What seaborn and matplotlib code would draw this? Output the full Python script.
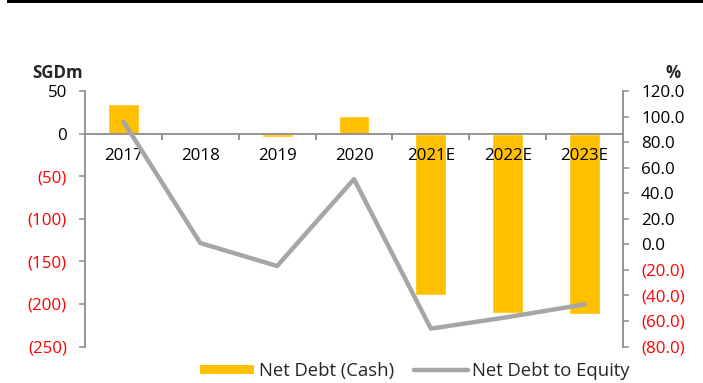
import numpy as np
import pandas as pd
import matplotlib
matplotlib.use("Agg")
import matplotlib.pyplot as plt
from matplotlib.patches import Patch, Rectangle
from matplotlib.lines import Line2D
from matplotlib.ticker import FuncFormatter, MultipleLocator
import seaborn as sns

# Net debt (cash), SGD million, and net debt to equity, %
years = ["2017", "2018", "2019", "2020", "2021E", "2022E", "2023E"]
net_debt = [35, 0, -4, 21, -190, -211, -212]
net_debt_to_equity = [96, 1, -17, 51, -66, -57, -47]

BAR_COLOR = "#FFC000"
LINE_COLOR = "#A6A6A6"
AXIS_COLOR = "#8C8C8C"
NEG_COLOR = "#FF0000"

sns.set_theme(style="white")
plt.rcParams["font.family"] = ["Open Sans", "DejaVu Sans"]
FS = 12.2
LEGEND_FS = 13.3

fig = plt.figure(figsize=(7.03, 3.83), dpi=100)
ax = fig.add_axes([85 / 703, 1 - 346.5 / 383, (623 - 85) / 703, (346.5 - 91) / 383])

df = pd.DataFrame({"year": years, "net_debt": net_debt,
                   "ratio": net_debt_to_equity, "pos": np.arange(len(years))})

sns.barplot(data=df, x="year", y="net_debt", color=BAR_COLOR, width=0.4,
            saturation=1, ax=ax, zorder=1)
ax.set_xlim(-0.5, len(years) - 0.5)
ax.set_ylim(-250, 50)
ax.yaxis.set_major_locator(MultipleLocator(50))
ax.set_axisbelow(False)

# Twin axis for the ratio line
ax2 = ax.twinx()
sns.lineplot(data=df, x="pos", y="ratio", color=LINE_COLOR, linewidth=3.2,
             ax=ax2, legend=False)
ax2.set_xlim(-0.5, len(years) - 0.5)
ax2.set_ylim(-80, 120)
ax2.yaxis.set_major_locator(MultipleLocator(20))

for a in (ax, ax2):
    a.set_xlabel("")
    a.set_ylabel("")
    a.set_facecolor("none")
    for s in a.spines.values():
        s.set_visible(False)

ax.spines["left"].set_visible(True)
ax.spines["left"].set_color(AXIS_COLOR)
ax.spines["left"].set_linewidth(1.3)
ax.spines["bottom"].set_visible(True)
ax.spines["bottom"].set_position(("data", 0))
ax.spines["bottom"].set_color(AXIS_COLOR)
ax.spines["bottom"].set_linewidth(1.3)
ax2.spines["right"].set_visible(True)
ax2.spines["right"].set_color(AXIS_COLOR)
ax2.spines["right"].set_linewidth(1.3)

# Year labels centred on bars, tick marks between categories
ax.set_xticks(np.arange(len(years)))
ax.set_xticklabels(years)
ax.set_xticks(np.arange(0.5, len(years) - 1, 1.0), minor=True)
ax.tick_params(axis="x", which="major", length=0, pad=10.5, labelsize=FS, colors="black")
ax.tick_params(axis="x", which="minor", length=4, width=1.3, color=AXIS_COLOR,
               direction="out", bottom=True)
ax2.tick_params(axis="x", which="both", bottom=False, labelbottom=False)

ax.tick_params(axis="y", which="major", left=True, length=4.5, width=1.1,
               color=AXIS_COLOR, direction="out", pad=8.5, labelsize=FS)
ax2.tick_params(axis="y", which="major", right=True, length=4.5, width=1.1,
                color=AXIS_COLOR, direction="out", pad=8.5, labelsize=FS)

ax.yaxis.set_major_formatter(FuncFormatter(
    lambda v, _: f"({abs(v):.0f})" if v < 0 else f"{v:.0f}"))
ax2.yaxis.set_major_formatter(FuncFormatter(
    lambda v, _: f"({abs(v):.1f})" if v < 0 else f"{v:.1f}"))

fig.canvas.draw()
for a in (ax, ax2):
    for lab in a.get_yticklabels():
        txt = lab.get_text()
        lab.set_color(NEG_COLOR if txt.startswith("(") else "black")

ax.set_zorder(1)
ax2.set_zorder(2)

# Axis unit titles
fig.text(58 / 703, 1 - 72.5 / 383, "SGDm", ha="center", va="center",
         fontsize=FS, fontweight="bold")
fig.text(673 / 703, 1 - 72.5 / 383, "%", ha="center", va="center",
         fontsize=FS, fontweight="bold")

# Heavy rule across the top
fig.add_artist(Rectangle((7 / 703, 1 - 3 / 383), 696 / 703, 3 / 383,
                         transform=fig.transFigure, color="black", lw=0))

handles = [Patch(facecolor=BAR_COLOR, edgecolor="none", label="Net Debt (Cash)"),
           Line2D([], [], color=LINE_COLOR, linewidth=3.2, label="Net Debt to Equity")]
fig.legend(handles=handles, loc="center", bbox_to_anchor=(415 / 703, 1 - 371 / 383),
           ncol=2, frameon=False, fontsize=LEGEND_FS, handlelength=2.9, handleheight=0.42,
           handletextpad=0.25, columnspacing=1.1, borderpad=0, borderaxespad=0)

fig.savefig("out.png", dpi=100)
